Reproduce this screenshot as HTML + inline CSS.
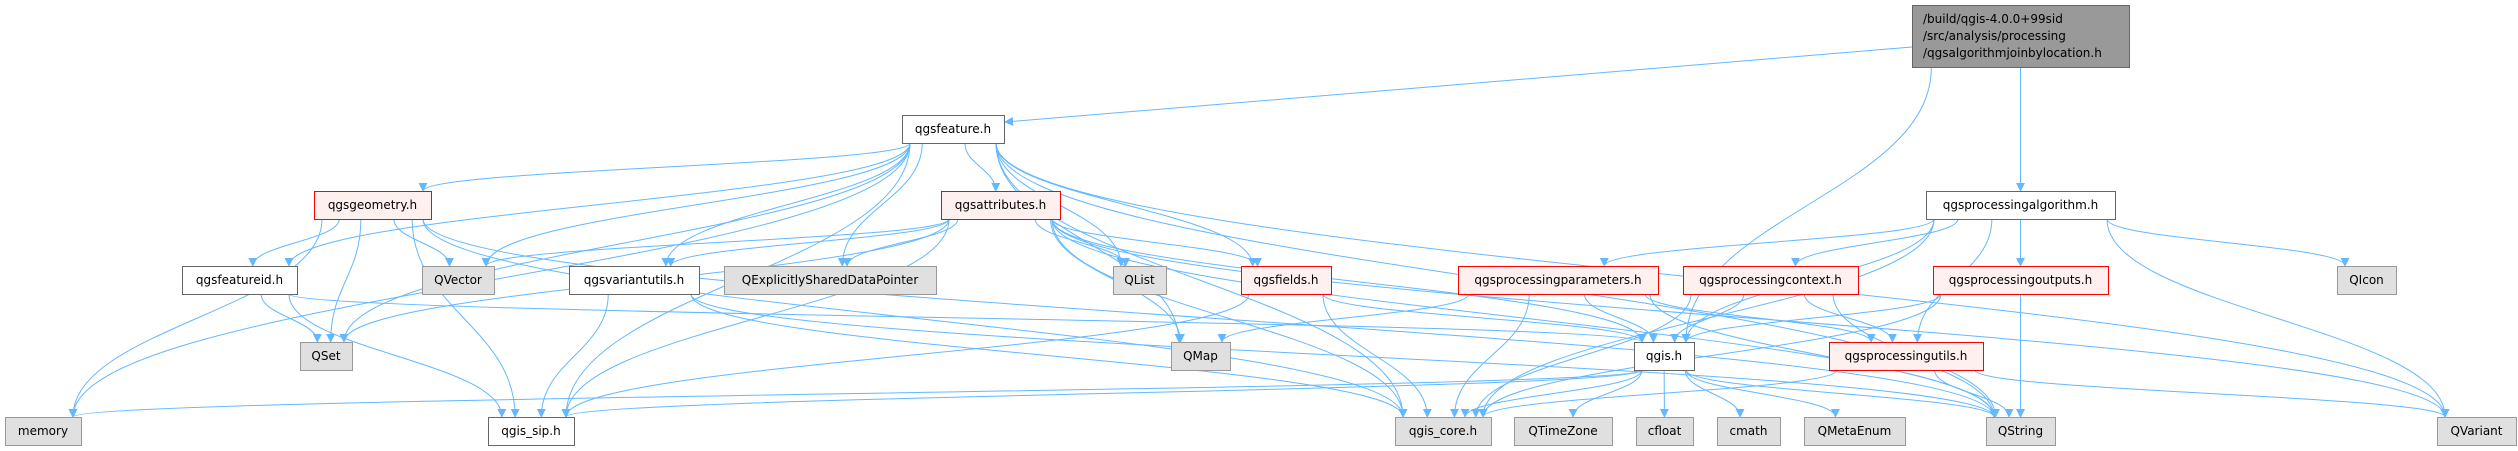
<!DOCTYPE html>
<html><head><meta charset="utf-8">
<style>
html,body{margin:0;padding:0;background:#fff;}
svg{display:block;}
text{font-family:"DejaVu Sans","Liberation Sans",sans-serif;font-size:12px;fill:#000;}
</style></head>
<body>
<svg id="g" width="2518" height="451" viewBox="0 0 2518 451" xmlns="http://www.w3.org/2000/svg">
<defs>
<marker id="a" viewBox="0 0 10 10" refX="9" refY="5" markerWidth="9" markerHeight="9" orient="auto" markerUnits="userSpaceOnUse">
<path d="M0,0 L10,5 L0,10 z" fill="#63b8ff"/>
</marker>
</defs>
<g id="edges"></g>
<g id="nodes"></g>
</svg>
<script>
var N={
root:[1912,5,2129,67,'root',['/build/qgis-4.0.0+99sid','/src/analysis/processing','/qgsalgorithmjoinbylocation.h']],
feat:[902,115,1004,143,'w','qgsfeature.h'],
geom:[314,191,431,219,'r','qgsgeometry.h'],
attr:[941,191,1060,219,'r','qgsattributes.h'],
algo:[1926,191,2115,219,'w','qgsprocessingalgorithm.h'],
fid:[182,266,297,294,'w','qgsfeatureid.h'],
QVector:[422,266,494,294,'g','QVector'],
varu:[569,266,699,294,'w','qgsvariantutils.h'],
QESDP:[724,266,936,294,'g','QExplicitlySharedDataPointer'],
QList:[1113,266,1166,294,'g','QList'],
fields:[1241,266,1331,294,'r','qgsfields.h'],
params:[1458,266,1658,294,'r','qgsprocessingparameters.h'],
ctx:[1683,266,1858,294,'r','qgsprocessingcontext.h'],
outs:[1933,266,2108,294,'r','qgsprocessingoutputs.h'],
QIcon:[2337,266,2396,294,'g','QIcon'],
QSet:[300,342,352,370,'g','QSet'],
QMap:[1171,342,1230,370,'g','QMap'],
qgis:[1634,342,1694,370,'w','qgis.h'],
putils:[1829,342,1983,370,'r','qgsprocessingutils.h'],
memory:[5,417,81,445,'g','memory'],
sip:[488,417,574,445,'w','qgis_sip.h'],
core:[1395,417,1491,445,'g','qgis_core.h'],
QTimeZone:[1514,417,1612,445,'g','QTimeZone'],
cfloat:[1636,417,1693,445,'g','cfloat'],
cmath:[1717,417,1780,445,'g','cmath'],
QMetaEnum:[1804,417,1905,445,'g','QMetaEnum'],
QString:[1986,417,2055,445,'g','QString'],
QVariant:[2437,417,2516,445,'g','QVariant']
};
var E={
root:['algo','qgis'],
feat:['memory','sip','QSet','fid','geom','QVector','varu','QESDP','attr','QList','QMap','fields','core','QString','QVariant'],
geom:['fid','QSet','QVector','memory','sip','core','QString'],
fid:['QSet','sip','qgis'],
attr:['QVector','QESDP','QList','QMap','fields','core','sip','QSet','varu','QString','QVariant','qgis'],
varu:['sip','core','QString'],
fields:['qgis','core','sip'],
algo:['core','params','ctx','outs','putils','qgis','QIcon','QString','QVariant'],
params:['QMap','core','qgis','putils','QString'],
ctx:['qgis','core','putils','QString'],
outs:['qgis','QString','core'],
putils:['QString','QVariant','core'],
qgis:['memory','sip','core','QTimeZone','cfloat','cmath','QMetaEnum','QString']
};
var ns='http://www.w3.org/2000/svg';
var eg=document.getElementById('edges'),ng=document.getElementById('nodes');
function cl(v,a,b){return Math.max(a,Math.min(b,v));}
function addPath(d){
 var p=document.createElementNS(ns,'path');
 p.setAttribute('d',d);p.setAttribute('fill','none');p.setAttribute('stroke','#63b8ff');
 p.setAttribute('stroke-width','1');p.setAttribute('marker-end','url(#a)');
 eg.appendChild(p);
}
addPath('M1912,47 L1005,122');
for(var s in E){E[s].forEach(function(t){
 var A=N[s],B=N[t];
 var acx=(A[0]+A[2])/2,bcx=(B[0]+B[2])/2;
 var x1=cl(acx+(bcx-acx)*0.25,A[0]+8,A[2]-8),y1=A[3];
 var d;
 if(B[1]-A[3]>20){
  var x2=cl(bcx+(acx-bcx)*0.1,B[0]+8,B[2]-8),y2=B[1];
  var dy=(y2-y1);
  d='M'+x1+','+y1+' C'+x1+','+(y1+dy*0.45)+' '+x2+','+(y2-dy*0.45)+' '+x2+','+y2;
 }else{
  var x2=bcx<acx?B[2]:B[0],y2=(B[1]+B[3])/2;
  d='M'+x1+','+y1+' C'+x1+','+(y1+20)+' '+x2+','+y2+' '+x2+','+y2;
 }
 addPath(d);
});}
var st={w:['#fff','#666'],r:['#fff0f0','#ff0000'],g:['#e0e0e0','#999'],root:['#999','#666']};
for(var k in N){var n=N[k];
 var r=document.createElementNS(ns,'rect');
 r.setAttribute('x',n[0]+0.5);r.setAttribute('y',n[1]+0.5);
 r.setAttribute('width',n[2]-n[0]);r.setAttribute('height',n[3]-n[1]);
 r.setAttribute('fill',st[n[4]][0]);r.setAttribute('stroke',st[n[4]][1]);
 ng.appendChild(r);
 var lines=Array.isArray(n[5])?n[5]:[n[5]];
 lines.forEach(function(L,i){
  var t=document.createElementNS(ns,'text');
  if(lines.length>1){t.setAttribute('x',n[0]+11);t.setAttribute('y',n[1]+18+i*17);}
  else{t.setAttribute('x',(n[0]+n[2])/2);t.setAttribute('y',n[1]+18);t.setAttribute('text-anchor','middle');}
  t.textContent=L;ng.appendChild(t);
 });
}
</script>
</body></html>
